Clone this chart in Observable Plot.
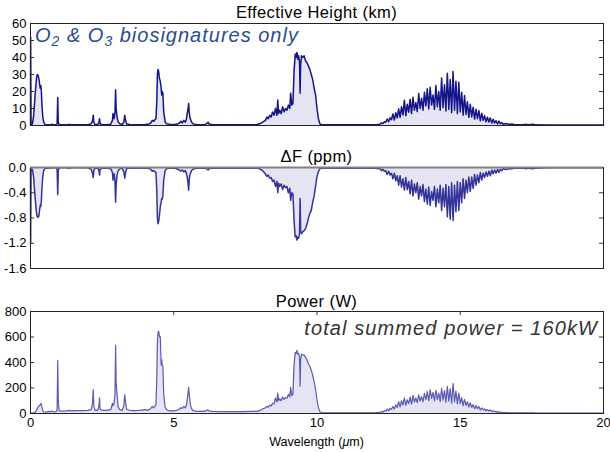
<!DOCTYPE html>
<html><head><meta charset="utf-8">
<script src="https://cdn.jsdelivr.net/npm/d3@7"></script>
<script src="https://cdn.jsdelivr.net/npm/@observablehq/plot@0.6"></script>
<style>
body{margin:0;background:#fff;font-family:"Liberation Sans",Arial,Helvetica,sans-serif;}
#wrap{position:relative;width:610px;height:452px;overflow:hidden;background:#fff;}
#wrap svg{position:absolute;left:0;}
.title{position:absolute;left:0;width:633px;text-align:center;font-size:16.5px;letter-spacing:0.4px;line-height:18px;color:#000;white-space:nowrap;}
.note{position:absolute;font-style:italic;font-size:20px;line-height:20px;white-space:nowrap;}
.note sub{font-size:14px;vertical-align:-4px;line-height:0;}
</style></head>
<body><div id="wrap"></div>
<script>
// wavelength grid (µm)
const wave = [
0.0,0.005,0.02,0.05,0.08,0.11,0.14,0.17,0.20,0.22,0.24,0.26,0.28,0.30,0.32,0.34,0.36,0.38,0.40,0.43,0.46,0.50,0.55,0.62,
0.70,0.75,0.80,0.90,0.93,0.95,0.97,1.00,1.10,1.25,1.35,1.45,1.6,1.8,2.0,2.12,2.17,2.19,2.21,2.25,2.35,2.39,2.41,2.43,2.5,2.65,2.8,2.86,2.88,2.92,2.95,2.97,2.99,3.02,3.06,3.12,3.2,3.26,3.29,3.31,3.35,3.45,3.6,3.8,4.0,
4.1,4.2,4.25,4.3,4.35,4.38,4.41,4.43,4.45,4.47,4.49,4.51,4.53,4.56,4.58,4.60,4.62,4.65,4.70,4.75,4.85,5.0,5.1,5.2,5.25,5.3,5.35,5.4,5.44,5.47,5.50,5.52,5.54,5.56,5.58,5.62,5.66,5.72,5.8,5.9,6.0,6.1,6.18,6.2,6.22,6.35,6.6,7.0,7.4,7.8,
7.9,8.0,8.1,8.2,8.25,8.3,8.35,8.4,8.45,8.5,8.55,8.6,8.63,8.66,8.7,8.75,8.8,8.85,8.9,8.95,9.0,9.05,9.08,9.12,9.16,9.2,9.24,9.27,9.3,9.33,9.36,9.39,9.41,9.43,9.46,9.5,9.55,9.6,9.65,9.7,9.75,9.8,9.85,9.9,9.95,10.0,10.05,10.1,10.15,10.3,
10.6,11.0,11.5,12.0,12.1,
12.20,12.25,12.30,12.35,12.40,12.45,12.50,12.55,12.60,12.65,
12.70,12.75,12.80,12.85,12.90,12.95,13.00,13.05,13.10,13.15,
13.20,13.25,13.30,13.35,13.40,13.45,13.50,13.55,13.60,13.65,
13.70,13.75,13.80,13.85,13.90,13.95,14.00,14.05,14.10,14.15,
14.20,14.25,14.30,14.35,14.40,14.45,14.50,14.55,14.60,14.65,
14.70,14.75,14.80,14.85,14.90,14.95,15.00,15.05,15.10,15.15,
15.20,15.25,15.30,15.35,15.40,15.45,15.50,15.55,15.60,15.65,
15.70,15.75,15.80,15.85,15.90,15.95,16.00,16.05,16.10,16.15,
16.20,16.25,16.30,16.35,16.40,16.45,16.50,
16.6,16.7,16.8,16.9,17.0,17.2,17.3,17.35,17.55,17.6,18.0,19.0,20.0
];
// Effective height (km)
const heightKm = [
0.5,52,1,0.5,2,6,13,20,26,29,30,29.5,28.5,27,24,22,23.5,20,12,5,2,0.8,0.5,0.4,
0.4,0.8,0.4,0.5,1,16.5,2,0.5,0.4,0.4,0.6,0.4,0.4,0.4,0.5,1,3,6,2,0.6,0.6,2,4,1,0.5,0.5,0.7,3,7,4,8,21,10,5,2,1,0.6,2,6,4,1,0.6,0.5,0.5,0.6,
0.7,1.5,3,2.5,3.5,4,15,30,33,32,29,27,26,22,18,20,19,8,2,1,0.7,0.6,0.7,1.5,2.5,1.5,3,2,3.5,7,10,13,8,5,4,2,1.2,0.8,0.6,0.5,0.5,0.6,1.5,2,1,0.5,0.4,0.4,0.4,0.5,
0.6,1,2,3,5,4,6,5,8,6,10,6,15,7,9,7,11,8,10,9,12,10,19,12,13,32,42,40,43,39,41,37,19,36,41,40,41,38,37,35,33,30,27,22,18,10,4,1,0.5,0.4,
0.4,0.4,0.4,0.5,0.6,
0.8,1.6,1.1,2.2,1.9,3.8,2.3,4.6,3.4,6.8,
3.2,7.5,4.5,9.8,4.8,11,6.2,14.9,5.8,12.5,
7.8,15.5,7,16.6,9,13.5,8.2,18.8,10,16,
9,19.5,11.5,21.6,9.8,22.5,12,18,9.5,23.5,
11,20,9,28,10.5,24,8.5,30.8,9.5,27,
7.5,31.8,9,26,7,25.5,8,19.5,6,17.6,
6.5,14,4.8,12.5,5,10.8,3.8,9.5,4,8.8,
2.8,7.2,3,5.8,2.2,4.9,2,4.5,1.4,3.6,
1.5,2.8,0.9,2.6,1,1.8,0.7,
1.2,0.6,0.9,0.5,0.4,0.4,0.8,0.4,0.8,0.4,0.3,0.3,0.3
];
// ΔF (ppm)
const deltaF = [
-0.01,-1.2,-0.03,-0.02,-0.06,-0.16,-0.35,-0.52,-0.68,-0.75,-0.78,-0.79,-0.78,-0.74,-0.66,-0.6,-0.62,-0.52,-0.32,-0.14,-0.05,-0.02,-0.01,-0.01,
-0.005,-0.01,-0.005,-0.005,-0.03,-0.43,-0.05,-0.005,-0.005,-0.005,-0.01,-0.005,-0.005,-0.005,-0.005,-0.03,-0.1,-0.16,-0.05,-0.01,-0.01,-0.05,-0.12,-0.03,-0.01,-0.01,-0.02,-0.08,-0.2,-0.1,-0.22,-0.55,-0.27,-0.12,-0.05,-0.02,-0.01,-0.07,-0.17,-0.1,-0.02,-0.01,-0.01,-0.01,-0.01,
-0.01,-0.03,-0.06,-0.05,-0.07,-0.08,-0.4,-0.8,-0.89,-0.86,-0.8,-0.72,-0.62,-0.55,-0.49,-0.5,-0.44,-0.2,-0.05,-0.02,-0.01,-0.01,-0.02,-0.04,-0.06,-0.04,-0.07,-0.05,-0.09,-0.15,-0.25,-0.36,-0.2,-0.12,-0.1,-0.05,-0.03,-0.02,-0.01,-0.01,-0.01,-0.01,-0.03,-0.04,-0.02,-0.01,-0.01,-0.01,-0.01,-0.01,
-0.01,-0.02,-0.05,-0.1,-0.14,-0.12,-0.17,-0.16,-0.22,-0.2,-0.3,-0.22,-0.4,-0.25,-0.3,-0.26,-0.35,-0.28,-0.32,-0.3,-0.4,-0.33,-0.52,-0.4,-0.42,-0.85,-1.1,-1.08,-1.15,-1.1,-1.12,-1.05,-0.49,-1.0,-1.05,-1.02,-1.0,-0.97,-0.9,-0.8,-0.73,-0.68,-0.55,-0.45,-0.3,-0.14,-0.06,-0.02,-0.01,-0.01,
-0.01,-0.01,-0.01,-0.01,-0.015,
-0.02,-0.05,-0.03,-0.06,-0.05,-0.11,-0.06,-0.12,-0.09,-0.18,
-0.09,-0.21,-0.13,-0.28,-0.13,-0.31,-0.18,-0.36,-0.16,-0.35,
-0.22,-0.42,-0.2,-0.45,-0.26,-0.4,-0.24,-0.5,-0.3,-0.45,
-0.27,-0.54,-0.34,-0.58,-0.31,-0.6,-0.38,-0.52,-0.3,-0.62,
-0.34,-0.56,-0.28,-0.68,-0.33,-0.62,-0.27,-0.78,-0.3,-0.82,
-0.24,-0.84,-0.28,-0.7,-0.22,-0.68,-0.24,-0.56,-0.18,-0.49,
-0.2,-0.4,-0.15,-0.38,-0.15,-0.33,-0.11,-0.28,-0.12,-0.24,
-0.08,-0.2,-0.09,-0.16,-0.07,-0.14,-0.06,-0.13,-0.04,-0.1,
-0.04,-0.09,-0.03,-0.08,-0.03,-0.05,-0.02,
-0.03,-0.02,-0.02,-0.01,-0.01,-0.01,-0.02,-0.01,-0.02,-0.01,-0.005,-0.005,-0.005
];
// Power (W)
const powerW = [
2,5,3,3,4,6,8,12,20,30,40,50,55,60,62,70,78,72,45,22,12,10,12,14,
15,20,12,15,30,417,100,20,18,20,25,20,22,22,24,30,90,188,60,25,25,60,122,35,25,25,30,80,60,80,150,534,237,150,50,30,25,60,148,110,35,25,22,24,30,
25,40,55,45,60,70,300,560,630,646,620,600,602,380,420,378,370,150,50,30,20,20,25,35,45,40,55,45,60,110,158,206,150,114,70,40,25,20,18,17,17,18,30,28,20,17,15,15,15,17,
17,22,35,45,55,50,65,60,80,75,120,90,160,100,115,100,130,110,125,120,150,130,205,140,150,380,480,470,495,465,470,440,215,420,465,460,458,440,420,390,370,340,300,250,190,106,45,15,8,6,
6,5,5,6,7,
8,16,11,22,19,35,22,40,32,55,
35,68,48,92,52,100,66,120,64,108,
78,128,74,142,90,122,86,146,98,132,
92,158,108,172,100,185,118,165,98,182,
108,160,92,198,104,180,88,212,96,196,
80,237,90,175,76,160,78,124,62,110,
64,92,50,84,48,70,37,62,38,55,
28,44,28,36,21,31,19,28,14,22,
14,17,9,14,9,10,7,
8,6,6,5,5,5,6,5,6,5,4,4,4
];
const heightTicks = [0,10,20,30,40,50,60];
const deltaTicks = [0,-0.4,-0.8,-1.2,-1.6];
const powerTicks = [0,200,400,600,800];
const waveTicks = [0,5,10,15,20];
const waveInnerTicks = [5,10,15];

if (![heightKm, deltaF, powerW].every(a => a.length === wave.length))
  throw new Error("length mismatch " + [wave.length, heightKm.length, deltaF.length, powerW.length]);

const W = 610, ML = 30, MR = 7, FW = W - ML - MR;
const FILL = "#e4e4f2";
const FONT = '"Liberation Sans", Arial, Helvetica, sans-serif';

function panel(vals, o) {
  const rows = wave.map((w, i) => ({w, v: vals[i]}));
  const FH = o.height - o.mt - o.mb;
  const marks = [
    Plot.areaY(rows, {x: "w", y: "v", fill: FILL}),
    Plot.lineY(rows, {x: "w", y: "v", stroke: o.color, strokeWidth: o.sw, strokeLinejoin: "round"}),
    Plot.tickY(o.yTicks, {y: d => d, insetRight: FW - 4, stroke: "#333"}),
    Plot.tickY(o.yTicks, {y: d => d, insetLeft: FW - 4, stroke: "#333"}),
    Plot.frame({stroke: "#222", strokeWidth: 1})
  ];
  if (o.zeroRule) marks.push(Plot.ruleY([0], {stroke: "#808080", strokeWidth: 2}));
  if (o.xAxis) marks.push(Plot.tickX(waveInnerTicks, {x: d => d, insetBottom: FH - 4, stroke: "#333"}));
  const svg = Plot.plot({
    width: W, height: o.height,
    marginLeft: ML, marginRight: MR, marginTop: o.mt, marginBottom: o.mb,
    x: {domain: [0, 20], axis: o.xAxis ? "bottom" : null, ticks: waveTicks, tickSize: 0, tickPadding: 4, label: null, tickFormat: d => String(d)},
    y: {domain: o.yDomain, ticks: o.yTicks, tickSize: 0, tickPadding: 4, label: null, tickFormat: o.fmt},
    style: {fontFamily: FONT, fontSize: "13px", color: "#000", background: "transparent", overflow: "visible"},
    marks
  });
  svg.style.top = o.top + "px";
  return svg;
}

const wrap = document.getElementById("wrap");
wrap.appendChild(panel(heightKm, {top: 0, height: 130, mt: 23, mb: 5, yDomain: [0, 60], yTicks: heightTicks, color: "#15158a", sw: 1.5, fmt: d => String(d)}));
wrap.appendChild(panel(deltaF, {top: 140, height: 133, mt: 27, mb: 5, yDomain: [-1.6, 0], yTicks: deltaTicks, color: "#333399", sw: 1.5, fmt: d => d.toFixed(1), zeroRule: true}));
wrap.appendChild(panel(powerW, {top: 290, height: 162, mt: 21, mb: 39, yDomain: [0, 800], yTicks: powerTicks, color: "#5a5ab4", sw: 1.2, fmt: d => String(d), xAxis: true}));

function addDiv(cls, html, css) {
  const d = document.createElement("div");
  d.className = cls; d.innerHTML = html;
  Object.assign(d.style, css);
  wrap.appendChild(d);
}
addDiv("title", "Effective Height (km)", {top: "3px"});
addDiv("title", "ΔF (ppm)", {top: "147px"});
addDiv("title", "Power (W)", {top: "292px"});
addDiv("title", 'Wavelength (<i>μ</i>m)', {top: "433px", fontSize: "12.5px", letterSpacing: "0px"});
addDiv("note", "O<sub>2</sub> &amp; O<sub>3</sub> biosignatures only", {left: "35px", top: "25px", color: "#2a4d8f", letterSpacing: "1px"});
addDiv("note", "total summed power = 160kW", {right: "12px", top: "318px", color: "#333", letterSpacing: "1.1px"});
</script>
</body></html>
